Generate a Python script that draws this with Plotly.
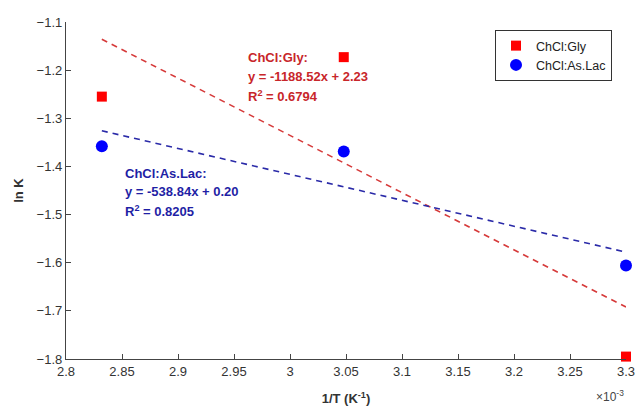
import plotly.graph_objects as go

# x in units of 1e-3 K^-1
x_vals = [2.832, 3.048, 3.300]
gly_lnK = [-1.255, -1.173, -1.795]
aslac_lnK = [-1.358, -1.369, -1.606]

fit_x = [2.832, 3.300]
gly_fit = [-1.136, -1.692]
aslac_fit = [-1.326, -1.578]

x_ticks = [2.8, 2.85, 2.9, 2.95, 3.0, 3.05, 3.1, 3.15, 3.2, 3.25, 3.3]
x_tick_text = ["2.8", "2.85", "2.9", "2.95", "3", "3.05", "3.1", "3.15", "3.2", "3.25", "3.3"]
y_ticks = [-1.8, -1.7, -1.6, -1.5, -1.4, -1.3, -1.2, -1.1]

FONT = "Liberation Sans, Arial, sans-serif"

fig = go.Figure()
fig.add_trace(go.Scatter(x=fit_x, y=gly_fit, mode="lines", showlegend=False,
                         line=dict(color="#d63a3a", width=1.6, dash="6px,5px")))
fig.add_trace(go.Scatter(x=fit_x, y=aslac_fit, mode="lines", showlegend=False,
                         line=dict(color="#2a2aa8", width=1.6, dash="6px,5px")))
fig.add_trace(go.Scatter(x=x_vals, y=gly_lnK, mode="markers", name="ChCl:Gly",
                         marker=dict(symbol="square", color="#ff0000", size=10), cliponaxis=False))
fig.add_trace(go.Scatter(x=x_vals, y=aslac_lnK, mode="markers", name="ChCl:As.Lac",
                         marker=dict(symbol="circle", color="#0000ff", size=12), cliponaxis=False))

ann_font_r = dict(family=FONT, size=13, color="#c8262a")
ann_font_b = dict(family=FONT, size=13, color="#1f1fa5")

anns = [
    ("<b>ChCl:Gly:</b>", 246, 57, ann_font_r),
    ("<b>y = -1188.52x + 2.23</b>", 246, 76, ann_font_r),
    ("<b>R<sup>2</sup> = 0.6794</b>", 246, 96, ann_font_r),
    ("<b>ChCl:As.Lac:</b>", 123, 173, ann_font_b),
    ("<b>y = -538.84x + 0.20</b>", 123, 191, ann_font_b),
    ("<b>R<sup>2</sup> = 0.8205</b>", 123, 211, ann_font_b),
]
L, R, T, B = 66, 626, 22, 359
for txt, px, py, f in anns:
    fig.add_annotation(text=txt, x=(px - L) / (R - L), y=1 - (py - T) / (B - T),
                       xref="paper", yref="paper", xanchor="left", yanchor="middle",
                       showarrow=False, font=f)

fig.add_annotation(text="×10<sup>-3</sup>", x=1.0, y=1 - (396 - T) / (B - T),
                   xref="paper", yref="paper", xanchor="right", yanchor="middle",
                   showarrow=False, font=dict(family=FONT, size=12, color="#444444"))

fig.update_layout(
    width=638, height=410, autosize=False,
    margin=dict(l=L, r=638 - R, t=T, b=410 - B, autoexpand=False),
    plot_bgcolor="white", paper_bgcolor="white",
    font=dict(family=FONT, size=13, color="#333333"),
    legend=dict(x=(495 - L) / (R - L), y=1 - (30 - T) / (B - T), xanchor="left", yanchor="top",
                bordercolor="#333333", borderwidth=1, bgcolor="white",
                font=dict(family=FONT, size=12.5, color="#222222"),
                tracegroupgap=0, itemwidth=30),
    xaxis=dict(range=[2.8, 3.3], tickvals=x_ticks, ticktext=x_tick_text, automargin=False,
               showgrid=False, zeroline=False, showline=True, linecolor="#444444", linewidth=1.3,
               ticks="inside", ticklen=5, tickcolor="#444444",
               title=dict(text="<b>1/T (K<sup>-1</sup>)</b>", standoff=16,
                          font=dict(family=FONT, size=13, color="#333333"))),
    yaxis=dict(range=[-1.8, -1.1], tickvals=y_ticks, automargin=False,
               showgrid=False, zeroline=False, showline=True, linecolor="#444444", linewidth=1.3,
               ticks="inside", ticklen=5, tickcolor="#444444",
               title=dict(text="<b>ln K</b>", standoff=10,
                          font=dict(family=FONT, size=13, color="#333333"))),
)

fig.write_html("out.html",
               config={"displayModeBar": False, "responsive": False},
               post_script="document.body.style.margin='0';document.body.style.overflow='hidden';"
                           "document.documentElement.style.overflow='hidden';")
